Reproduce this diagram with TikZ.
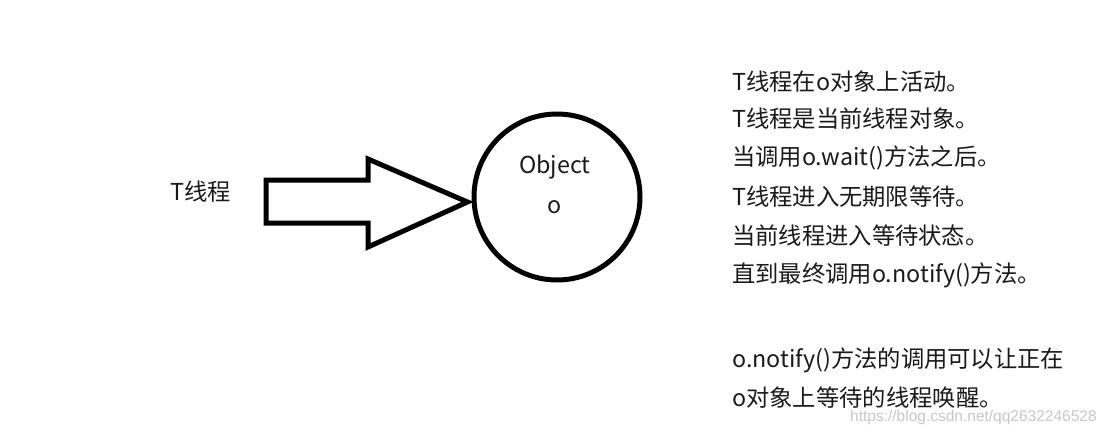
\documentclass[tikz,border=0pt]{standalone}
\usepackage{fontspec}
\setmainfont{Noto Sans CJK SC}
\newfontfamily\wmfont{Liberation Sans}
\definecolor{ink}{HTML}{1A1A1A}
\begin{document}
\begin{tikzpicture}[x=1pt,y=-1pt,
  txt/.style={font=\fontsize{23.3}{28}\selectfont, text=ink, inner sep=0pt},
  line/.style={anchor=west, txt},
  heavy/.style={line width=5pt, draw=black}]
\useasboundingbox (0,0) rectangle (1112,436);
\fill[white] (0,0) rectangle (1112,436);
% circle
\node[heavy, circle, minimum size=166pt, inner sep=0pt] (obj) at (557,197) {};
\node[txt] (objt) at (555,167) {Object};
\node[txt] (objo) at (555,207) {o};
% label
\node[txt] (T) at (201,192) {T线程};
% arrow
\draw[heavy, line join=miter, miter limit=10]
  (obj.west) ++(-4,5) coordinate (tip)
  (tip) -- (368,247) -- (368,223) -- (266,223) -- (266,180) -- (368,180) -- (368,159) -- cycle;
% text block
\node[line] (l1) at (732,82) {T线程在o对象上活动。};
\node[line] (l2) at (732,119) {T线程是当前线程对象。};
\node[line] (l3) at (732,158) {当调用o.wait()方法之后。};
\node[line] (l4) at (732,197) {T线程进入无期限等待。};
\node[line] (l5) at (732,236) {当前线程进入等待状态。};
\node[line] (l6) at (732,275) {直到最终调用o.notify()方法。};
\node[line] (l7) at (732,360) {o.notify()方法的调用可以让正在};
\node[line] (l8) at (732,398) {o对象上等待的线程唤醒。};
% watermark
\node[anchor=west, inner sep=0pt, font=\wmfont\fontsize{15.5}{18}\selectfont, text=black!22] (wm) at (850,417) {https://blog.csdn.net/qq2632246528};
\end{tikzpicture}
\end{document}
